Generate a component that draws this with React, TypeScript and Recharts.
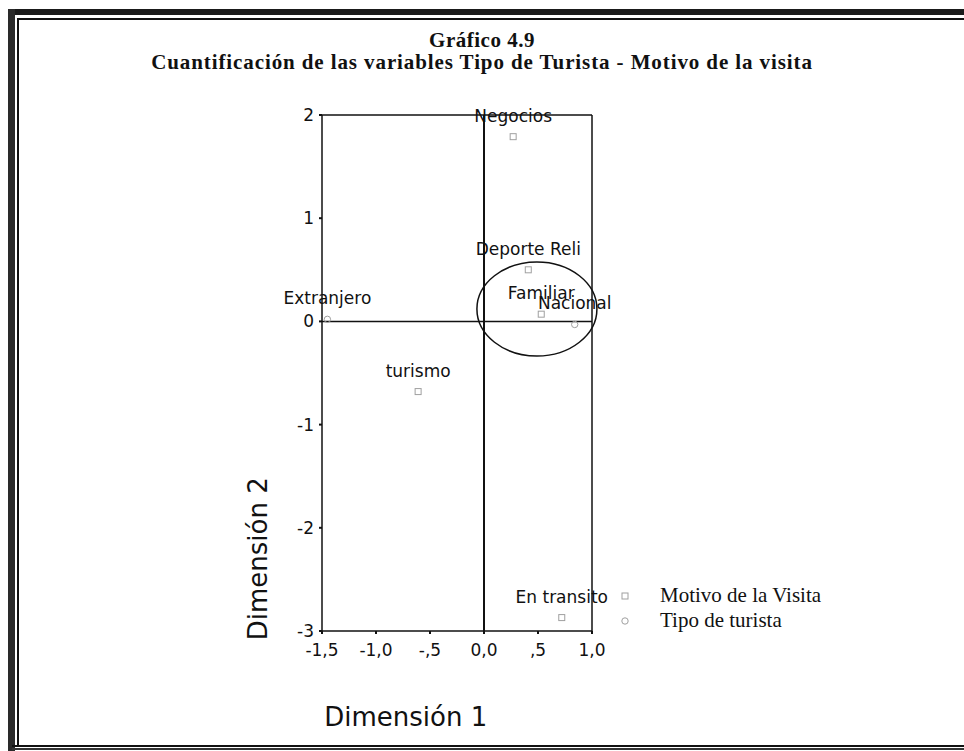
import React from "react";
import {
  ScatterChart,
  Scatter,
  XAxis,
  YAxis,
  ReferenceLine,
  ReferenceDot,
  LabelList,
  Legend,
} from "recharts";

// ---- data ----
const motivoNames = ["Negocios", "Deporte Reli", "Familiar", "turismo", "En transito"];
const motivoDim1 = [0.27, 0.41, 0.53, -0.61, 0.72];
const motivoDim2 = [1.79, 0.5, 0.07, -0.68, -2.87];

const tipoNames = ["Nacional", "Extranjero"];
const tipoDim1 = [0.84, -1.45];
const tipoDim2 = [-0.03, 0.02];

const xTicks = [-1.5, -1.0, -0.5, 0.0, 0.5, 1.0];
const xTickLabels = ["-1,5", "-1,0", "-,5", "0,0", ",5", "1,0"];
const yTicks = [-3, -2, -1, 0, 1, 2];
const yTickLabels = ["-3", "-2", "-1", "0", "1", "2"];

const seriesNames = ["Motivo de la Visita", "Tipo de turista"];
const titleLines = [
  "Gráfico 4.9",
  "Cuantificación de las variables Tipo de Turista - Motivo de la visita",
];
const xAxisTitle = "Dimensión 1";
const yAxisTitle = "Dimensión 2";

// annotation ellipse center (data coords)
const circleCenter = { x: 0.49, y: 0.12 };

const motivoData = motivoNames.map((n, i) => ({ name: n, x: motivoDim1[i], y: motivoDim2[i] }));
const tipoData = tipoNames.map((n, i) => ({ name: n, x: tipoDim1[i], y: tipoDim2[i] }));

const SANS = "'DejaVu Sans', Arial, sans-serif";
const SERIF = "'Liberation Serif', 'Times New Roman', serif";

const SquareMarker = (props: any) => {
  const { cx, cy } = props;
  if (cx == null || cy == null) return null;
  return <rect x={cx - 3} y={cy - 3} width={6} height={6} fill="none" stroke="#a0a0a0" strokeWidth={1} />;
};
const CircleMarker = (props: any) => {
  const { cx, cy } = props;
  if (cx == null || cy == null) return null;
  return <circle cx={cx} cy={cy} r={3.2} fill="none" stroke="#a0a0a0" strokeWidth={1} />;
};

const EllipseShape = (props: any) => {
  const { cx, cy } = props;
  if (cx == null || cy == null) return null;
  return <ellipse cx={cx} cy={cy} rx={60} ry={47} fill="none" stroke="#111" strokeWidth={1.5} />;
};

const PointLabel = (p: any) => {
  const vb = p.viewBox || {};
  const cx = (vb.x ?? p.x ?? 0) + (vb.width ?? p.width ?? 0) / 2;
  const cy = (vb.y ?? p.y ?? 0) + (vb.height ?? p.height ?? 0) / 2;
  return (
    <text x={cx} y={cy - 15} textAnchor="middle" fontFamily={SANS} fontSize={17} fill="#111">
      {p.value}
    </text>
  );
};

const XTick = (props: any) => {
  const { x, y, payload } = props;
  const idx = xTicks.indexOf(payload.value);
  return (
    <text x={x} y={y} dy={20} textAnchor="middle" fontFamily={SANS} fontSize={17} fill="#111">
      {idx >= 0 ? xTickLabels[idx] : payload.value}
    </text>
  );
};
const YTick = (props: any) => {
  const { x, y, payload } = props;
  const idx = yTicks.indexOf(payload.value);
  return (
    <text x={x - 3} y={y} dy={6} textAnchor="end" fontFamily={SANS} fontSize={17} fill="#111">
      {idx >= 0 ? yTickLabels[idx] : payload.value}
    </text>
  );
};

const LegendContent = () => (
  <div style={{ fontFamily: SERIF, fontSize: 21, color: "#111" }}>
    {seriesNames.map((n, i) => (
      <div key={n} style={{ display: "flex", alignItems: "center", height: 25 }}>
        <svg width={12} height={12} style={{ marginRight: 29 }}>
          {i === 0 ? (
            <rect x={3} y={3} width={6} height={6} fill="none" stroke="#a0a0a0" />
          ) : (
            <circle cx={6} cy={6} r={3.2} fill="none" stroke="#a0a0a0" />
          )}
        </svg>
        <span>{n}</span>
      </div>
    ))}
  </div>
);

export default function App() {
  return (
    <div style={{ position: "absolute", left: 0, top: 0, width: 964, height: 751, background: "#fff", overflow: "hidden" }}>
      {/* scanned page frame */}
      <div style={{ position: "absolute", left: 8, top: 9, width: 956, height: 6, background: "#1a1a1a" }} />
      <div style={{ position: "absolute", left: 8, top: 9, width: 7, height: 742, background: "#2a2a2a" }} />
      <div style={{ position: "absolute", left: 18, top: 18, width: 946, height: 2, background: "#111" }} />
      <div style={{ position: "absolute", left: 17, top: 18, width: 2, height: 729, background: "#111" }} />
      <div style={{ position: "absolute", left: 12, top: 745, width: 952, height: 2, background: "#111" }} />
      <div style={{ position: "absolute", left: 12, top: 748, width: 952, height: 2, background: "#333" }} />

      {/* title */}
      <div
        style={{
          position: "absolute",
          left: 0,
          top: 29,
          width: 964,
          textAlign: "center",
          fontFamily: SERIF,
          fontWeight: "bold",
          fontSize: 21,
          lineHeight: "22px",
          color: "#111",
        }}
      >
        <div style={{ letterSpacing: 0.5 }}>{titleLines[0]}</div>
        <div style={{ letterSpacing: 0.9 }}>{titleLines[1]}</div>
      </div>

      <div style={{ position: "absolute", left: 0, top: 0 }}>
        <ScatterChart width={964} height={751} margin={{ top: 115, right: 372, bottom: 90, left: 262 }}>
          <XAxis
            type="number"
            dataKey="x"
            domain={[-1.5, 1.0]}
            ticks={xTicks}
            tick={<XTick />}
            tickSize={3}
            tickLine={{ stroke: "#111", strokeWidth: 2 }}
            axisLine={{ stroke: "#111", strokeWidth: 1.5 }}
            height={30}
            allowDataOverflow
            label={{
              content: (p: any) => {
                const vb = p.viewBox || {};
                return (
                  <text
                    x={vb.x + vb.width * 0.31}
                    y={vb.y + 95}
                    textAnchor="middle"
                    fontFamily={SANS}
                    fontSize={26}
                    fill="#111"
                  >
                    {xAxisTitle}
                  </text>
                );
              },
            }}
          />
          <YAxis
            type="number"
            dataKey="y"
            domain={[-3, 2]}
            ticks={yTicks}
            tick={<YTick />}
            tickSize={3}
            tickLine={{ stroke: "#111", strokeWidth: 2 }}
            axisLine={{ stroke: "#111", strokeWidth: 1.5 }}
            width={60}
            allowDataOverflow
            label={{
              content: (p: any) => {
                const vb = p.viewBox || {};
                const cx = vb.x - 4;
                const cy = vb.y + vb.height * 0.86;
                return (
                  <text
                    x={cx}
                    y={cy}
                    transform={`rotate(-90, ${cx}, ${cy})`}
                    textAnchor="middle"
                    dominantBaseline="central"
                    fontFamily={SANS}
                    fontSize={26}
                    fill="#111"
                  >
                    {yAxisTitle}
                  </text>
                );
              },
            }}
          />
          <ReferenceLine y={2} stroke="#111" strokeWidth={1.5} />
          <ReferenceLine x={1} stroke="#111" strokeWidth={1.5} />
          <ReferenceLine y={0} stroke="#111" strokeWidth={1.5} />
          <ReferenceLine x={0} stroke="#111" strokeWidth={2} />
          <Legend
            verticalAlign="middle"
            align="center"
            layout="vertical"
            content={<LegendContent />}
            wrapperStyle={{ position: "absolute", left: 619, top: 583, width: 260 }}
          />
          <Scatter name={seriesNames[0]} data={motivoData} shape={<SquareMarker />} isAnimationActive={false}>
            <LabelList dataKey="name" content={PointLabel} />
          </Scatter>
          <Scatter name={seriesNames[1]} data={tipoData} shape={<CircleMarker />} isAnimationActive={false}>
            <LabelList dataKey="name" content={PointLabel} />
          </Scatter>
          <ReferenceDot x={circleCenter.x} y={circleCenter.y} shape={<EllipseShape />} ifOverflow="visible" />
        </ScatterChart>
      </div>
    </div>
  );
}
